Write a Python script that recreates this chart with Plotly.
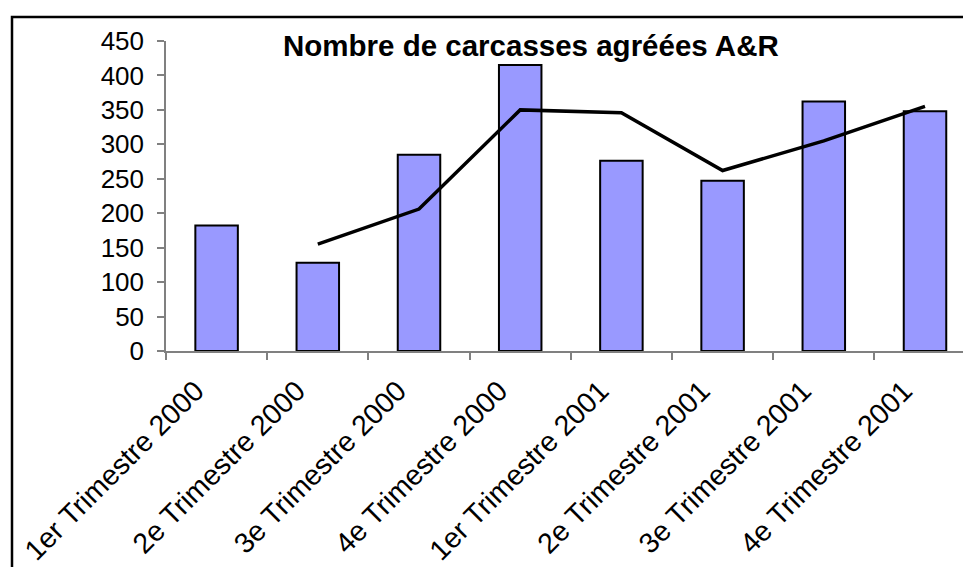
import plotly.graph_objects as go

# Quarterly counts of approved carcasses
trimestres = [
    "1er Trimestre 2000", "2e Trimestre 2000", "3e Trimestre 2000", "4e Trimestre 2000",
    "1er Trimestre 2001", "2e Trimestre 2001", "3e Trimestre 2001", "4e Trimestre 2001",
]
carcasses = [182, 128, 285, 415, 276, 247, 362, 348]
# 2-period moving average (no value for the first quarter)
moyenne_mobile = [None, 155, 206, 350, 346, 262, 305, 355]
y_ticks = [0, 50, 100, 150, 200, 250, 300, 350, 400, 450]

W, H = 963, 567
L, R, T, B = 166, 0, 41, 216
plot_w = W - L - R
plot_h = H - T - B
cat_w = 101.2  # pixel width of one quarter on the x axis

def px_to_paper_x(px):
    return (px - L) / plot_w

def px_to_paper_y(py):
    return (H - B - py) / plot_h

fig = go.Figure()
fig.add_trace(go.Bar(
    x=trimestres,
    y=carcasses,
    width=0.42,
    marker=dict(color="#9999FF", line=dict(color="black", width=2)),
    showlegend=False,
))
fig.add_trace(go.Scatter(
    x=trimestres,
    y=moyenne_mobile,
    mode="lines",
    line=dict(color="black", width=3.5),
    connectgaps=False,
    showlegend=False,
))

fig.update_layout(
    width=W, height=H,
    margin=dict(l=L, r=R, t=T, b=B, pad=0, autoexpand=False),
    paper_bgcolor="white",
    plot_bgcolor="white",
    font=dict(family="Liberation Sans, Arial, sans-serif", color="black"),
    xaxis=dict(
        type="category",
        categoryorder="array",
        categoryarray=trimestres,
        range=[-0.5, -0.5 + plot_w / cat_w],
        automargin=False,
        tickangle=-45,
        tickfont=dict(size=28.5),
        showgrid=False,
        zeroline=False,
        showline=True,
        linecolor="#808080",
        linewidth=1.5,
        ticks="outside",
        tickson="boundaries",
        ticklen=7,
        tickcolor="#808080",
        tickwidth=1.5,
        ticklabelshift=-21,
        ticklabelstandoff=10,
    ),
    yaxis=dict(
        range=[0, 450],
        automargin=False,
        tickmode="array",
        tickvals=y_ticks,
        tickfont=dict(size=26),
        showgrid=False,
        zeroline=False,
        showline=True,
        linecolor="#808080",
        linewidth=1.5,
        ticks="outside",
        ticklen=7,
        tickcolor="#808080",
        tickwidth=1.5,
        ticklabelstandoff=8,
    ),
    annotations=[dict(
        text="<b>Nombre de carcasses agréées A&R</b>",
        x=px_to_paper_x(531), y=px_to_paper_y(45),
        xref="paper", yref="paper",
        xanchor="center", yanchor="middle",
        showarrow=False,
        font=dict(size=29.5, color="black"),
    )],
    shapes=[dict(
        type="rect", xref="paper", yref="paper",
        x0=px_to_paper_x(12), x1=px_to_paper_x(1000),
        y0=px_to_paper_y(600), y1=px_to_paper_y(17),
        line=dict(color="black", width=2.5),
        fillcolor="rgba(0,0,0,0)",
        layer="below",
    )],
)

fig.write_html("out.html")
